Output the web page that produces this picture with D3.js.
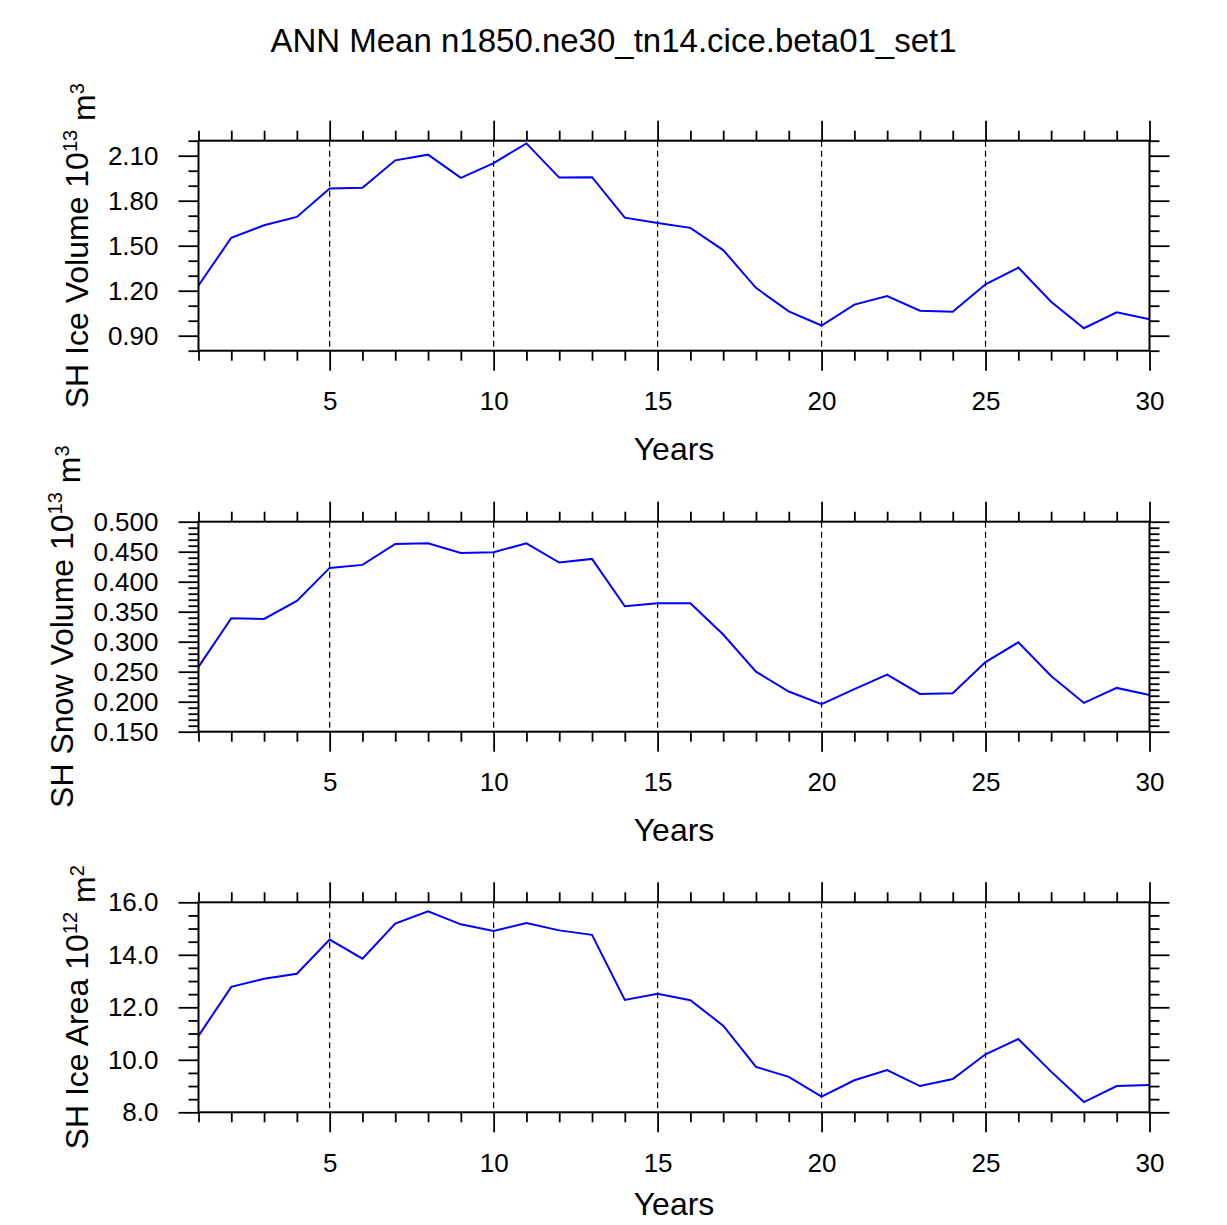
<!DOCTYPE html>
<html>
<head>
<meta charset="utf-8">
<script src="https://cdn.jsdelivr.net/npm/d3@7"></script>
<style>
  body { margin: 0; background: #fff; }
  text { font-family: "Liberation Sans", Arial, Helvetica, sans-serif; fill: #000; }
</style>
</head>
<body>
<div id="chart"></div>
<script>
/*-------------------- Data --------------------*/

var years = [1, 2, 3, 4, 5, 6, 7, 8, 9, 10, 11, 12, 13, 14, 15,
             16, 17, 18, 19, 20, 21, 22, 23, 24, 25, 26, 27, 28, 29, 30];

// SH ice volume, 10^13 m^3
var iceVolume = [1.235, 1.553, 1.636, 1.692, 1.881, 1.886, 2.069, 2.107, 1.952, 2.051,
                 2.182, 1.954, 1.957, 1.687, 1.652, 1.619, 1.471, 1.219, 1.062, 0.968,
                 1.107, 1.164, 1.067, 1.060, 1.243, 1.354, 1.126, 0.950, 1.056, 1.009];

// SH snow volume, 10^13 m^3
var snowVolume = [0.258, 0.339, 0.338, 0.368, 0.423, 0.428, 0.463, 0.464, 0.448, 0.449,
                  0.464, 0.432, 0.438, 0.359, 0.364, 0.364, 0.312, 0.250, 0.217, 0.196,
                  0.221, 0.245, 0.213, 0.214, 0.266, 0.299, 0.243, 0.198, 0.223, 0.211];

// SH ice area, 10^12 m^2
var iceArea = [10.91, 12.78, 13.09, 13.28, 14.58, 13.85, 15.19, 15.66, 15.16, 14.91,
               15.21, 14.93, 14.76, 12.28, 12.52, 12.27, 11.30, 9.73, 9.35, 8.60,
               9.22, 9.61, 9.00, 9.27, 10.21, 10.79, 9.55, 8.39, 9.00, 9.04];

var xTicks = [5, 10, 15, 20, 25, 30];
var gridYears = [5, 10, 15, 20, 25];

var iceVolumeTicks = [0.90, 1.20, 1.50, 1.80, 2.10];
var snowVolumeTicks = [0.150, 0.200, 0.250, 0.300, 0.350, 0.400, 0.450, 0.500];
var iceAreaTicks = [8.0, 10.0, 12.0, 14.0, 16.0];

var titleText = "ANN Mean n1850.ne30_tn14.cice.beta01_set1";

/*-------------------- Layout --------------------*/

var width = 1227, height = 1225;
var left = 198.5, right = 1149.5;
var panelH = 210;

var panels = [
    {values: iceVolume, top: 140.7, domain: [0.80, 2.20], ticks: iceVolumeTicks, minorStep: 0.10, fmt: ".2f",
     label: ["SH Ice Volume 10", "13", " m", "3"], titleY: 109},
    {values: snowVolume, top: 521.7, domain: [0.15, 0.50], ticks: snowVolumeTicks, minorStep: 0.01, fmt: ".3f",
     label: ["SH Snow Volume 10", "13", " m", "3"], titleY: 109},
    {values: iceArea, top: 902.3, domain: [8, 16], ticks: iceAreaTicks, minorStep: 0.5, fmt: ".1f",
     label: ["SH Ice Area 10", "12", " m", "2"], titleY: 103}
];

var svg = d3.select("#chart").append("svg")
    .attr("width", width)
    .attr("height", height);

svg.append("text")
    .attr("x", width / 2)
    .attr("y", 52)
    .attr("text-anchor", "middle")
    .style("font-size", "33px")
    .text(titleText);

var xScale = d3.scaleLinear().domain([1, 30]).range([left, right]);
var minorYears = years.filter(d => xTicks.indexOf(d) < 0);

panels.forEach(drawPanel);

function drawPanel(p) {
    var g = svg.append("g").attr("transform", "translate(0," + p.top + ")");
    var yScale = d3.scaleLinear().domain(p.domain).range([panelH, 0]);

    var n = Math.round((p.domain[1] - p.domain[0]) / p.minorStep);
    var minorVals = d3.range(n + 1).map(i => p.domain[0] + i * p.minorStep)
        .filter(v => !p.ticks.some(t => Math.abs(t - v) < 1e-6));

    // dashed vertical grid lines at the major years
    g.selectAll("line.grid")
        .data(gridYears)
        .enter()
        .append("line")
        .attr("class", "grid")
        .attr("x1", d => xScale(d))
        .attr("x2", d => xScale(d))
        .attr("y1", 0)
        .attr("y2", panelH)
        .attr("stroke", "#000")
        .attr("stroke-width", 1.2)
        .attr("stroke-dasharray", "6,4");

    // the series
    var line = d3.line()
        .x((d, i) => xScale(years[i]))
        .y(d => yScale(d));

    g.append("path")
        .datum(p.values)
        .attr("fill", "none")
        .attr("stroke", "#0000ff")
        .attr("stroke-width", 2)
        .attr("stroke-linejoin", "miter")
        .attr("d", line);

    // axes: major and minor ticks on all four sides
    var bottom = g.append("g").attr("transform", "translate(0," + panelH + ")");
    bottom.call(d3.axisBottom(xScale).tickValues(xTicks).tickSize(20).tickSizeOuter(0).tickPadding(12).tickFormat(d3.format("d")));
    bottom.append("g").call(d3.axisBottom(xScale).tickValues(minorYears).tickSize(10).tickSizeOuter(0).tickFormat(""));

    var topAx = g.append("g");
    topAx.call(d3.axisTop(xScale).tickValues(xTicks).tickSize(20).tickSizeOuter(0).tickFormat(""));
    topAx.append("g").call(d3.axisTop(xScale).tickValues(minorYears).tickSize(10).tickSizeOuter(0).tickFormat(""));

    var leftAx = g.append("g").attr("transform", "translate(" + left + ",0)");
    leftAx.call(d3.axisLeft(yScale).tickValues(p.ticks).tickSize(20).tickSizeOuter(0).tickPadding(20).tickFormat(d3.format(p.fmt)));
    leftAx.append("g").call(d3.axisLeft(yScale).tickValues(minorVals).tickSize(10).tickSizeOuter(0).tickFormat(""));

    var rightAx = g.append("g").attr("transform", "translate(" + right + ",0)");
    rightAx.call(d3.axisRight(yScale).tickValues(p.ticks).tickSize(20).tickSizeOuter(0).tickFormat(""));
    rightAx.append("g").call(d3.axisRight(yScale).tickValues(minorVals).tickSize(10).tickSizeOuter(0).tickFormat(""));

    g.selectAll(".domain").remove();
    g.selectAll(".tick line").attr("stroke", "#000").attr("stroke-width", 1.8);
    g.selectAll(".tick text").style("font-size", "26px").attr("fill", "#000");
    bottom.selectAll(".tick text").attr("dy", "1.05em");

    // frame
    g.append("rect")
        .attr("x", left)
        .attr("y", 0)
        .attr("width", right - left)
        .attr("height", panelH)
        .attr("fill", "none")
        .attr("stroke", "#000")
        .attr("stroke-width", 2);

    // x title
    g.append("text")
        .attr("x", (left + right) / 2)
        .attr("y", panelH + p.titleY)
        .attr("text-anchor", "middle")
        .style("font-size", "32px")
        .text("Years");

    // y title, placed left of the widest tick label
    var labelLeft = d3.min(leftAx.selectAll(".tick text").nodes(), n => n.getBBox().x) + left;
    var yt = g.append("text")
        .attr("transform", "translate(" + (labelLeft - 20) + "," + (panelH / 2) + ") rotate(-90)")
        .attr("text-anchor", "middle")
        .style("font-size", "32px");
    yt.append("tspan").text(p.label[0]);
    yt.append("tspan").attr("dy", "-0.55em").style("font-size", "20px").text(p.label[1]);
    yt.append("tspan").attr("dy", "0.55em").text(p.label[2]);
    yt.append("tspan").attr("dy", "-0.55em").style("font-size", "20px").text(p.label[3]);
}
</script>
</body>
</html>
